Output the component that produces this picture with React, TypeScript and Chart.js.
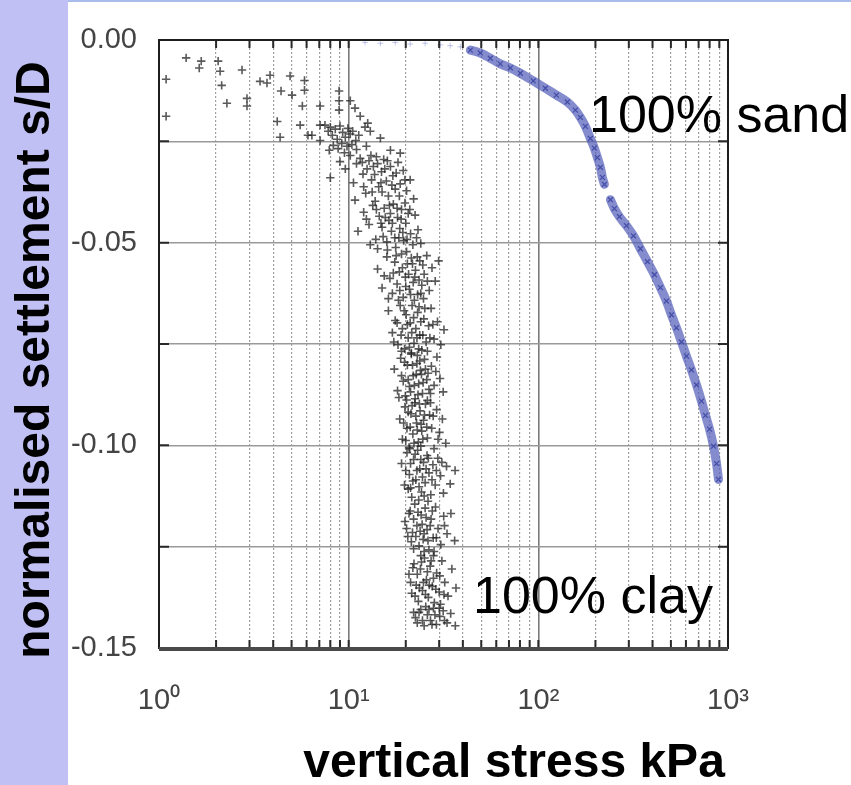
import React, { useEffect, useRef } from 'react';
import { Chart, registerables } from 'chart.js';

Chart.register(...registerables);

// ---------- axis ticks ----------
const xTickValues = [1, 2, 3, 4, 5, 6, 7, 8, 9, 10, 20, 30, 40, 50, 60, 70, 80, 90, 100, 200, 300, 400, 500, 600, 700, 800, 900, 1000];
const xDecadeValues = [1, 10, 100, 1000];
const xDecadeLabels = ['10⁰', '10¹', '10²', '10³'];
const yTickValues = [0, -0.025, -0.05, -0.075, -0.1, -0.125, -0.15];
const yLabelValues = [0, -0.05, -0.1, -0.15];
const yLabelTexts = ['0.00', '-0.05', '-0.10', '-0.15'];

// ---------- texts ----------
const xTitle = 'vertical stress kPa';
const yTitle = 'normalised settlement s/D';
const sandLabel = '100% sand';
const clayLabel = '100% clay';

// ---------- 100% clay: [vertical stress kPa, s/D] ----------
const clayPoints: [number, number][] = [
  // sparse start
  [1.09, -0.0097], [1.09, -0.0188], [1.39, -0.0044], [1.67, -0.0052], [1.63, -0.0069], [2.05, -0.0052],
  [2.1, -0.0077], [2.14, -0.0112], [2.28, -0.0156], [2.74, -0.0074], [2.91, -0.0144], [2.91, -0.0163],
  [3.41, -0.0102], [3.71, -0.0106], [3.85, -0.0087], [4.4, -0.0126], [4.2, -0.0201], [4.35, -0.024],
  [4.91, -0.0089], [5.03, -0.0136], [5.7, -0.0163], [5.85, -0.01], [5.85, -0.0124], [5.55, -0.021],
  [6.1, -0.0235], [7.07, -0.0163], [7.07, -0.021], [8.9, -0.0126], [8.9, -0.015], [8.9, -0.0173],
  [10.2, -0.015], [10.8, -0.0168], [11.5, -0.0188], [12.6, -0.0205],
  // dense knee
  [7.5, -0.021], [7.8, -0.0225], [8.0, -0.0215], [8.2, -0.0235], [8.5, -0.022], [8.7, -0.0245],
  [9.0, -0.0212], [9.3, -0.0228], [9.6, -0.024], [9.9, -0.0218], [10.2, -0.0232], [10.5, -0.0225],
  [8.3, -0.026], [8.8, -0.0268], [9.2, -0.0255], [9.8, -0.0262], [10.4, -0.0258], [10.9, -0.0248],
  [7.9, -0.0272], [9.5, -0.0278], [11.3, -0.0235], [12.2, -0.0215], [13.0, -0.0225], [14.7, -0.0242],
  [16.6, -0.0272], [18.7, -0.0279], [7.07, -0.0248], [6.4, -0.0235], [11.0, -0.027], [12.4, -0.0262],
  // -0.028 .. -0.040
  [8.0, -0.034], [9.0, -0.03], [9.6, -0.0318], [10.2, -0.0285], [10.6, -0.0352], [11.0, -0.0305],
  [11.5, -0.0292], [11.9, -0.0331], [12.3, -0.0378], [12.8, -0.0298], [13.2, -0.0345], [13.5, -0.0312],
  [14.0, -0.0288], [14.4, -0.0362], [14.9, -0.0325], [15.3, -0.0295], [15.8, -0.0348], [16.2, -0.0385],
  [16.6, -0.0312], [17.1, -0.0335], [17.6, -0.0368], [18.2, -0.0302], [18.7, -0.0355], [19.4, -0.0322],
  [20.2, -0.0372], [21.1, -0.0345], [22.0, -0.0392], [10.8, -0.0395], [13.8, -0.0398], [15.0, -0.0375],
  [11.8, -0.0302], [12.5, -0.0318], [13.1, -0.0285], [13.7, -0.0332], [14.2, -0.0305], [14.8, -0.0352],
  [15.5, -0.0318], [16.0, -0.0298], [16.9, -0.0358], [17.8, -0.0328], [12.0, -0.0362], [13.3, -0.0375],
  [18.5, -0.0385], [19.8, -0.0345],
  // -0.040 .. -0.052
  [11.2, -0.0472], [12.0, -0.0425], [12.8, -0.0455], [13.4, -0.0408], [13.9, -0.0492], [14.5, -0.0435],
  [15.0, -0.0462], [15.4, -0.0415], [15.9, -0.0498], [16.3, -0.0445], [16.8, -0.0472], [17.2, -0.0405],
  [17.7, -0.0512], [18.1, -0.0438], [18.6, -0.0465], [19.0, -0.0418], [19.5, -0.0495], [20.0, -0.0452],
  [20.6, -0.0428], [21.2, -0.0478], [21.8, -0.0505], [22.4, -0.0432], [23.2, -0.0468], [24.0, -0.0502],
  [14.2, -0.0515], [16.0, -0.0518], [18.4, -0.0488], [19.8, -0.0402], [13.0, -0.0505],
  [14.0, -0.0418], [14.8, -0.0452], [15.6, -0.0438], [16.4, -0.0408], [17.0, -0.0452], [17.5, -0.0488],
  [18.0, -0.0415], [18.9, -0.0442], [19.3, -0.0475], [20.3, -0.0492], [21.0, -0.0418], [15.2, -0.0485],
  [12.4, -0.0442], [22.8, -0.0488], [16.6, -0.0428],
  // -0.052 .. -0.064
  [14.2, -0.0565], [15.0, -0.0612], [15.9, -0.0535], [16.5, -0.0588], [17.0, -0.0625], [17.5, -0.0548],
  [18.0, -0.0602], [18.5, -0.0572], [19.0, -0.0528], [19.4, -0.0635], [19.9, -0.0585], [20.4, -0.0552],
  [20.9, -0.0615], [21.4, -0.0538], [21.9, -0.0598], [22.5, -0.0568], [23.1, -0.0628], [23.7, -0.0545],
  [24.3, -0.0605], [25.0, -0.0578], [25.8, -0.0532], [26.6, -0.0618], [27.5, -0.0562], [28.6, -0.0595],
  [29.8, -0.0545], [16.2, -0.0638], [18.3, -0.0642], [22.2, -0.0642], [20.2, -0.0522], [24.8, -0.0638],
  [17.2, -0.0575], [17.8, -0.0532], [18.6, -0.0618], [19.2, -0.0562], [20.0, -0.0608], [20.7, -0.0578],
  [21.2, -0.0628], [21.7, -0.0552], [22.3, -0.0585], [23.0, -0.0535], [23.5, -0.0592], [24.0, -0.0625],
  [24.6, -0.0555], [26.0, -0.0595], [15.4, -0.0582],
  // -0.064 .. -0.077
  [16.2, -0.0668], [17.0, -0.0722], [17.6, -0.0692], [18.2, -0.0752], [18.7, -0.0655], [19.2, -0.0712],
  [19.7, -0.0762], [20.1, -0.0678], [20.6, -0.0735], [21.1, -0.0698], [21.6, -0.0655], [22.1, -0.0748],
  [22.6, -0.0712], [23.1, -0.0672], [23.7, -0.0728], [24.3, -0.0765], [24.9, -0.0688], [25.6, -0.0745],
  [26.4, -0.0705], [27.2, -0.0662], [28.2, -0.0738], [29.4, -0.0695], [30.6, -0.0752], [31.8, -0.0715],
  [19.0, -0.0768], [21.4, -0.0772], [23.5, -0.0658], [26.0, -0.0768],
  [18.0, -0.0698], [18.9, -0.0728], [19.6, -0.0668], [20.4, -0.0702], [20.9, -0.0758], [21.5, -0.0722],
  [22.0, -0.0685], [22.9, -0.0735], [23.4, -0.0762], [24.0, -0.0695], [24.6, -0.0728], [25.2, -0.0662],
  [26.8, -0.0735], [27.8, -0.0702], [17.3, -0.0745],
  // -0.077 .. -0.089
  [17.4, -0.0812], [18.1, -0.0865], [18.8, -0.0785], [19.4, -0.0842], [19.9, -0.0878], [20.4, -0.0802],
  [20.9, -0.0855], [21.4, -0.0775], [21.9, -0.0828], [22.4, -0.0885], [22.9, -0.0798], [23.4, -0.0848],
  [23.9, -0.0815], [24.5, -0.0872], [25.1, -0.0788], [25.8, -0.0838], [26.5, -0.0862], [27.3, -0.0805],
  [28.2, -0.0852], [29.2, -0.0782], [30.3, -0.0835], [31.5, -0.0868], [20.2, -0.0888], [23.0, -0.0778],
  [26.0, -0.0889], [24.2, -0.0825],
  [19.0, -0.0828], [19.7, -0.0795], [20.6, -0.0838], [21.2, -0.0868], [21.7, -0.0802], [22.2, -0.0852],
  [22.7, -0.0825], [23.2, -0.0875], [23.7, -0.0792], [24.7, -0.0845], [25.4, -0.0812], [26.2, -0.0822],
  [27.0, -0.0872], [28.8, -0.0818], [18.4, -0.0882],
  // -0.089 .. -0.101
  [18.6, -0.0935], [19.2, -0.0985], [19.8, -0.0905], [20.3, -0.0958], [20.8, -0.1005], [21.3, -0.0922],
  [21.8, -0.0972], [22.3, -0.0895], [22.8, -0.0945], [23.3, -0.0992], [23.8, -0.0915], [24.3, -0.0965],
  [24.8, -0.0938], [25.4, -0.0898], [26.0, -0.0982], [26.7, -0.0925], [27.4, -0.0958], [28.2, -0.1008],
  [29.1, -0.0912], [30.1, -0.0968], [31.2, -0.0935], [32.5, -0.0995], [21.0, -0.1008], [24.0, -0.1002],
  [27.0, -0.0895],
  [19.5, -0.0945], [20.0, -0.0988], [20.6, -0.0918], [21.1, -0.0955], [21.6, -0.0902], [22.1, -0.0995],
  [22.6, -0.0928], [23.0, -0.0962], [23.6, -0.0898], [24.1, -0.0948], [24.6, -0.0985], [25.1, -0.0925],
  [25.8, -0.0955], [27.9, -0.0928], [29.6, -0.0985],
  // -0.101 .. -0.114
  [19.0, -0.1045], [19.7, -0.1098], [20.3, -0.1018], [20.9, -0.1072], [21.5, -0.1128], [22.0, -0.1035],
  [22.6, -0.1085], [23.1, -0.1012], [23.7, -0.1058], [24.2, -0.1115], [24.8, -0.1042], [25.3, -0.1092],
  [25.9, -0.1025], [26.5, -0.1068], [27.1, -0.1122], [27.8, -0.1048], [28.6, -0.1098], [29.5, -0.1032],
  [30.5, -0.1075], [31.6, -0.1118], [32.8, -0.1052], [34.3, -0.1095], [36.4, -0.1062], [23.4, -0.1135],
  [26.2, -0.1138], [21.2, -0.1105],
  [20.0, -0.1062], [20.6, -0.1108], [21.2, -0.1045], [21.8, -0.1088], [22.4, -0.1022], [22.9, -0.1062],
  [23.5, -0.1102], [24.0, -0.1035], [24.5, -0.1078], [25.0, -0.1125], [25.6, -0.1058], [26.3, -0.1032],
  [27.5, -0.1085], [29.0, -0.1062], [31.0, -0.1042],
  // -0.114 .. -0.126
  [19.8, -0.1188], [20.5, -0.1225], [21.1, -0.1162], [21.7, -0.1215], [22.3, -0.1145], [22.9, -0.1198],
  [23.5, -0.1248], [24.1, -0.1172], [24.7, -0.1232], [25.3, -0.1155], [25.9, -0.1208], [26.5, -0.1258],
  [27.2, -0.1182], [27.9, -0.1228], [28.7, -0.1152], [29.6, -0.1205], [30.6, -0.1245], [31.7, -0.1175],
  [33.0, -0.1218], [34.6, -0.1168], [36.2, -0.1235], [22.0, -0.1255], [25.0, -0.1262], [28.2, -0.1262],
  [20.2, -0.1205], [20.8, -0.1168], [21.4, -0.1238], [22.0, -0.1182], [22.6, -0.1225], [23.2, -0.1165],
  [23.8, -0.1212], [24.4, -0.1195], [25.0, -0.1218], [25.6, -0.1178], [26.2, -0.1235], [26.9, -0.1198],
  [27.6, -0.1162], [29.0, -0.1228], [32.0, -0.1198],
  // -0.126 .. -0.139
  [20.8, -0.1318], [21.5, -0.1365], [22.1, -0.1292], [22.7, -0.1345], [23.3, -0.1385], [23.9, -0.1305],
  [24.5, -0.1358], [25.1, -0.1278], [25.7, -0.1332], [26.3, -0.1375], [26.9, -0.1298], [27.6, -0.1348],
  [28.3, -0.1388], [29.1, -0.1315], [30.0, -0.1362], [31.0, -0.1285], [32.1, -0.1338], [33.4, -0.1372],
  [35.0, -0.1305], [36.8, -0.1352], [24.0, -0.1272], [28.0, -0.1272], [30.5, -0.1392],
  [21.2, -0.1338], [21.8, -0.1302], [22.4, -0.1372], [23.0, -0.1318], [23.6, -0.1352], [24.2, -0.1288],
  [24.8, -0.1338], [25.4, -0.1368], [26.0, -0.1312], [26.6, -0.1345], [27.2, -0.1285], [28.0, -0.1328],
  [28.8, -0.1355], [30.2, -0.1322], [31.8, -0.1368],
  // bottom
  [22.0, -0.1412], [23.0, -0.1438], [24.0, -0.1405], [25.0, -0.1445], [26.0, -0.1418], [27.0, -0.1432],
  [28.0, -0.1402], [29.0, -0.1442], [30.2, -0.1422], [31.5, -0.1408], [33.0, -0.1438], [34.5, -0.1415],
  [36.5, -0.1445], [25.5, -0.1398],
  [22.5, -0.1425], [23.5, -0.1412], [24.5, -0.1432], [26.5, -0.1405], [27.5, -0.1442], [28.5, -0.1418],
  [30.0, -0.1402], [32.0, -0.1432],
];

// ---------- 100% sand ----------
const sandFaintStress = [12.2, 14.7, 17.6, 21.1, 25.3, 30.4, 34.3, 38.8];
const sandFaintSettlement = [-0.0006, -0.0008, -0.0006, -0.001, -0.0008, -0.0012, -0.0014, -0.0017];

const sandStress = [
  43.8, 49.4, 55.8, 63.0, 71.2, 80.4, 94.1, 108.9, 124.5, 142.2, 156.8, 166.6, 177, 188.1, 197.5, 204.8, 212.4, 217.6, 223,
  230,
  239.9, 251.8, 267.6, 291.3, 317.2, 345.4, 376.1, 409.4, 440.3, 473.6, 503.3, 534.8, 568.4, 603.9, 641.8, 682.1, 724.8, 760.8, 799, 838.6, 869.7, 891.1,
];
const sandSettlement: (number | null)[] = [
  -0.0025, -0.0032, -0.0045, -0.0059, -0.0069, -0.0082, -0.0101, -0.0119, -0.0136, -0.0153, -0.0173, -0.0191, -0.0213, -0.0243, -0.0267, -0.029, -0.0314, -0.0339, -0.0356,
  null,
  -0.0394, -0.0416, -0.0436, -0.0458, -0.0483, -0.0515, -0.0547, -0.0579, -0.0611, -0.0644, -0.0678, -0.071, -0.0745, -0.078, -0.0814, -0.0851, -0.0891, -0.0926, -0.096, -0.1002, -0.1045, -0.1084,
];

const isDecade = (v: number) => Math.abs(Math.log10(v) - Math.round(Math.log10(v))) < 1e-9;

const decorPlugin = {
  id: 'decor',
  afterDraw(chart: any) {
    const { ctx, chartArea: a, scales } = chart;
    ctx.save();
    // inward tick marks
    ctx.strokeStyle = '#2a2a2a';
    ctx.lineWidth = 2;
    ctx.beginPath();
    for (const v of xTickValues) {
      const px = scales.x.getPixelForValue(v);
      ctx.moveTo(px, a.bottom);
      ctx.lineTo(px, a.bottom - 8);
      ctx.moveTo(px, a.top);
      ctx.lineTo(px, a.top + 8);
    }
    for (const v of yTickValues) {
      const py = scales.y.getPixelForValue(v);
      ctx.moveTo(a.left, py);
      ctx.lineTo(a.left + 10, py);
      ctx.moveTo(a.right, py);
      ctx.lineTo(a.right - 10, py);
    }
    ctx.stroke();
    // frame
    ctx.lineWidth = 2;
    ctx.strokeStyle = '#1e1e1e';
    ctx.strokeRect(a.left, a.top, a.right - a.left, a.bottom - a.top);
    ctx.lineWidth = 4;
    ctx.strokeStyle = '#4a4a4a';
    ctx.beginPath();
    ctx.moveTo(a.left, a.bottom + 1);
    ctx.lineTo(a.right, a.bottom + 1);
    ctx.stroke();
    // titles
    ctx.fillStyle = '#000';
    ctx.textBaseline = 'alphabetic';
    ctx.textAlign = 'center';
    ctx.font = 'bold 48px "Liberation Sans", Arial, sans-serif';
    ctx.fillText(xTitle, 514, 777);
    ctx.save();
    ctx.translate(49, 360);
    ctx.rotate(-Math.PI / 2);
    ctx.fillText(yTitle, 0, 0);
    ctx.restore();
    // annotations
    ctx.textAlign = 'left';
    ctx.font = '52px "Liberation Sans", Arial, sans-serif';
    ctx.fillText(sandLabel, 589, 132);
    ctx.fillText(clayLabel, 473, 613);
    ctx.restore();
  },
};

export default function App() {
  const canvasRef = useRef<HTMLCanvasElement | null>(null);

  useEffect(() => {
    const canvas = canvasRef.current;
    if (!canvas) return;
    const tickFont = { family: '"Liberation Sans", Arial, sans-serif', size: 29 };
    const chart = new Chart(canvas, {
      type: 'scatter',
      data: {
        datasets: [
          {
            label: clayLabel,
            data: clayPoints.map(([x, y]) => ({ x, y })),
            pointStyle: 'cross',
            pointRadius: 4.2,
            borderColor: 'rgba(25,25,25,0.72)',
            backgroundColor: 'rgba(25,25,25,0.72)',
            borderWidth: 1.6,
          },
          {
            label: sandLabel + ' (start)',
            data: sandFaintStress.map((x, i) => ({ x, y: sandFaintSettlement[i] })),
            pointStyle: 'cross',
            pointRadius: 3,
            borderColor: 'rgba(120,130,205,0.45)',
            backgroundColor: 'rgba(120,130,205,0.45)',
            borderWidth: 1,
          },
          {
            label: sandLabel,
            data: sandStress.map((x, i) => ({ x, y: sandSettlement[i] })),
            showLine: true,
            spanGaps: false,
            tension: 0.3,
            borderColor: 'rgba(85,96,186,0.72)',
            backgroundColor: 'rgba(85,96,186,0.72)',
            borderWidth: 9,
            borderCapStyle: 'round',
            borderJoinStyle: 'round',
            pointStyle: 'crossRot',
            pointRadius: 3.5,
            pointBorderColor: 'rgba(55,65,160,0.85)',
            pointBorderWidth: 1.2,
          } as any,
        ],
      },
      options: {
        responsive: false,
        animation: false,
        devicePixelRatio: 1,
        layout: { padding: { left: 0, top: 40, right: 123, bottom: 0 } },
        plugins: { legend: { display: false }, tooltip: { enabled: false } },
        scales: {
          x: {
            type: 'logarithmic',
            min: 1,
            max: 1000,
            afterBuildTicks: (s: any) => {
              s.ticks = xTickValues.map((v) => ({ value: v }));
            },
            afterFit: (s: any) => {
              s.height = 137;
            },
            grid: {
              drawTicks: false,
              color: (c: any) => (c.tick && isDecade(c.tick.value) ? '#7a7a7a' : '#a0a0a0'),
              lineWidth: (c: any) => (c.tick && isDecade(c.tick.value) ? 1.6 : 1.2),
            },
            border: {
              display: true,
              color: '#333',
              width: 2,
              dash: (c: any) => (c.tick && !isDecade(c.tick.value) ? [2, 2] : []),
            },
            ticks: {
              autoSkip: false,
              maxRotation: 0,
              minRotation: 0,
              padding: 36,
              color: '#444',
              font: tickFont,
              callback: (v: any) => {
                const i = xDecadeValues.findIndex((d) => Math.abs(d - Number(v)) < 1e-9);
                return i >= 0 ? xDecadeLabels[i] : '';
              },
            },
          } as any,
          y: {
            type: 'linear',
            min: -0.15,
            max: 0,
            afterBuildTicks: (s: any) => {
              s.ticks = yTickValues.map((v) => ({ value: v }));
            },
            afterFit: (s: any) => {
              s.width = 159;
            },
            grid: { drawTicks: false, color: '#999', lineWidth: 1.6 },
            border: { display: true, color: '#222', width: 2 },
            ticks: {
              autoSkip: false,
              padding: 22,
              color: '#444',
              font: tickFont,
              callback: (v: any) => {
                const i = yLabelValues.findIndex((d) => Math.abs(d - Number(v)) < 1e-9);
                return i >= 0 ? yLabelTexts[i] : '';
              },
            },
          } as any,
        },
      },
      plugins: [decorPlugin],
    });
    return () => chart.destroy();
  }, []);

  return (
    <div style={{ position: 'fixed', left: 0, top: 0, width: 851, height: 785, background: '#fff', overflow: 'hidden' }}>
      <div style={{ position: 'absolute', left: 0, top: 0, width: 68, height: 785, background: 'rgb(192,192,244)' }} />
      <div style={{ position: 'absolute', left: 68, top: 0, width: 783, height: 2, background: 'rgb(170,188,236)' }} />
      <canvas ref={canvasRef} width={851} height={785} style={{ position: 'absolute', left: 0, top: 0, width: 851, height: 785 }} />
    </div>
  );
}
